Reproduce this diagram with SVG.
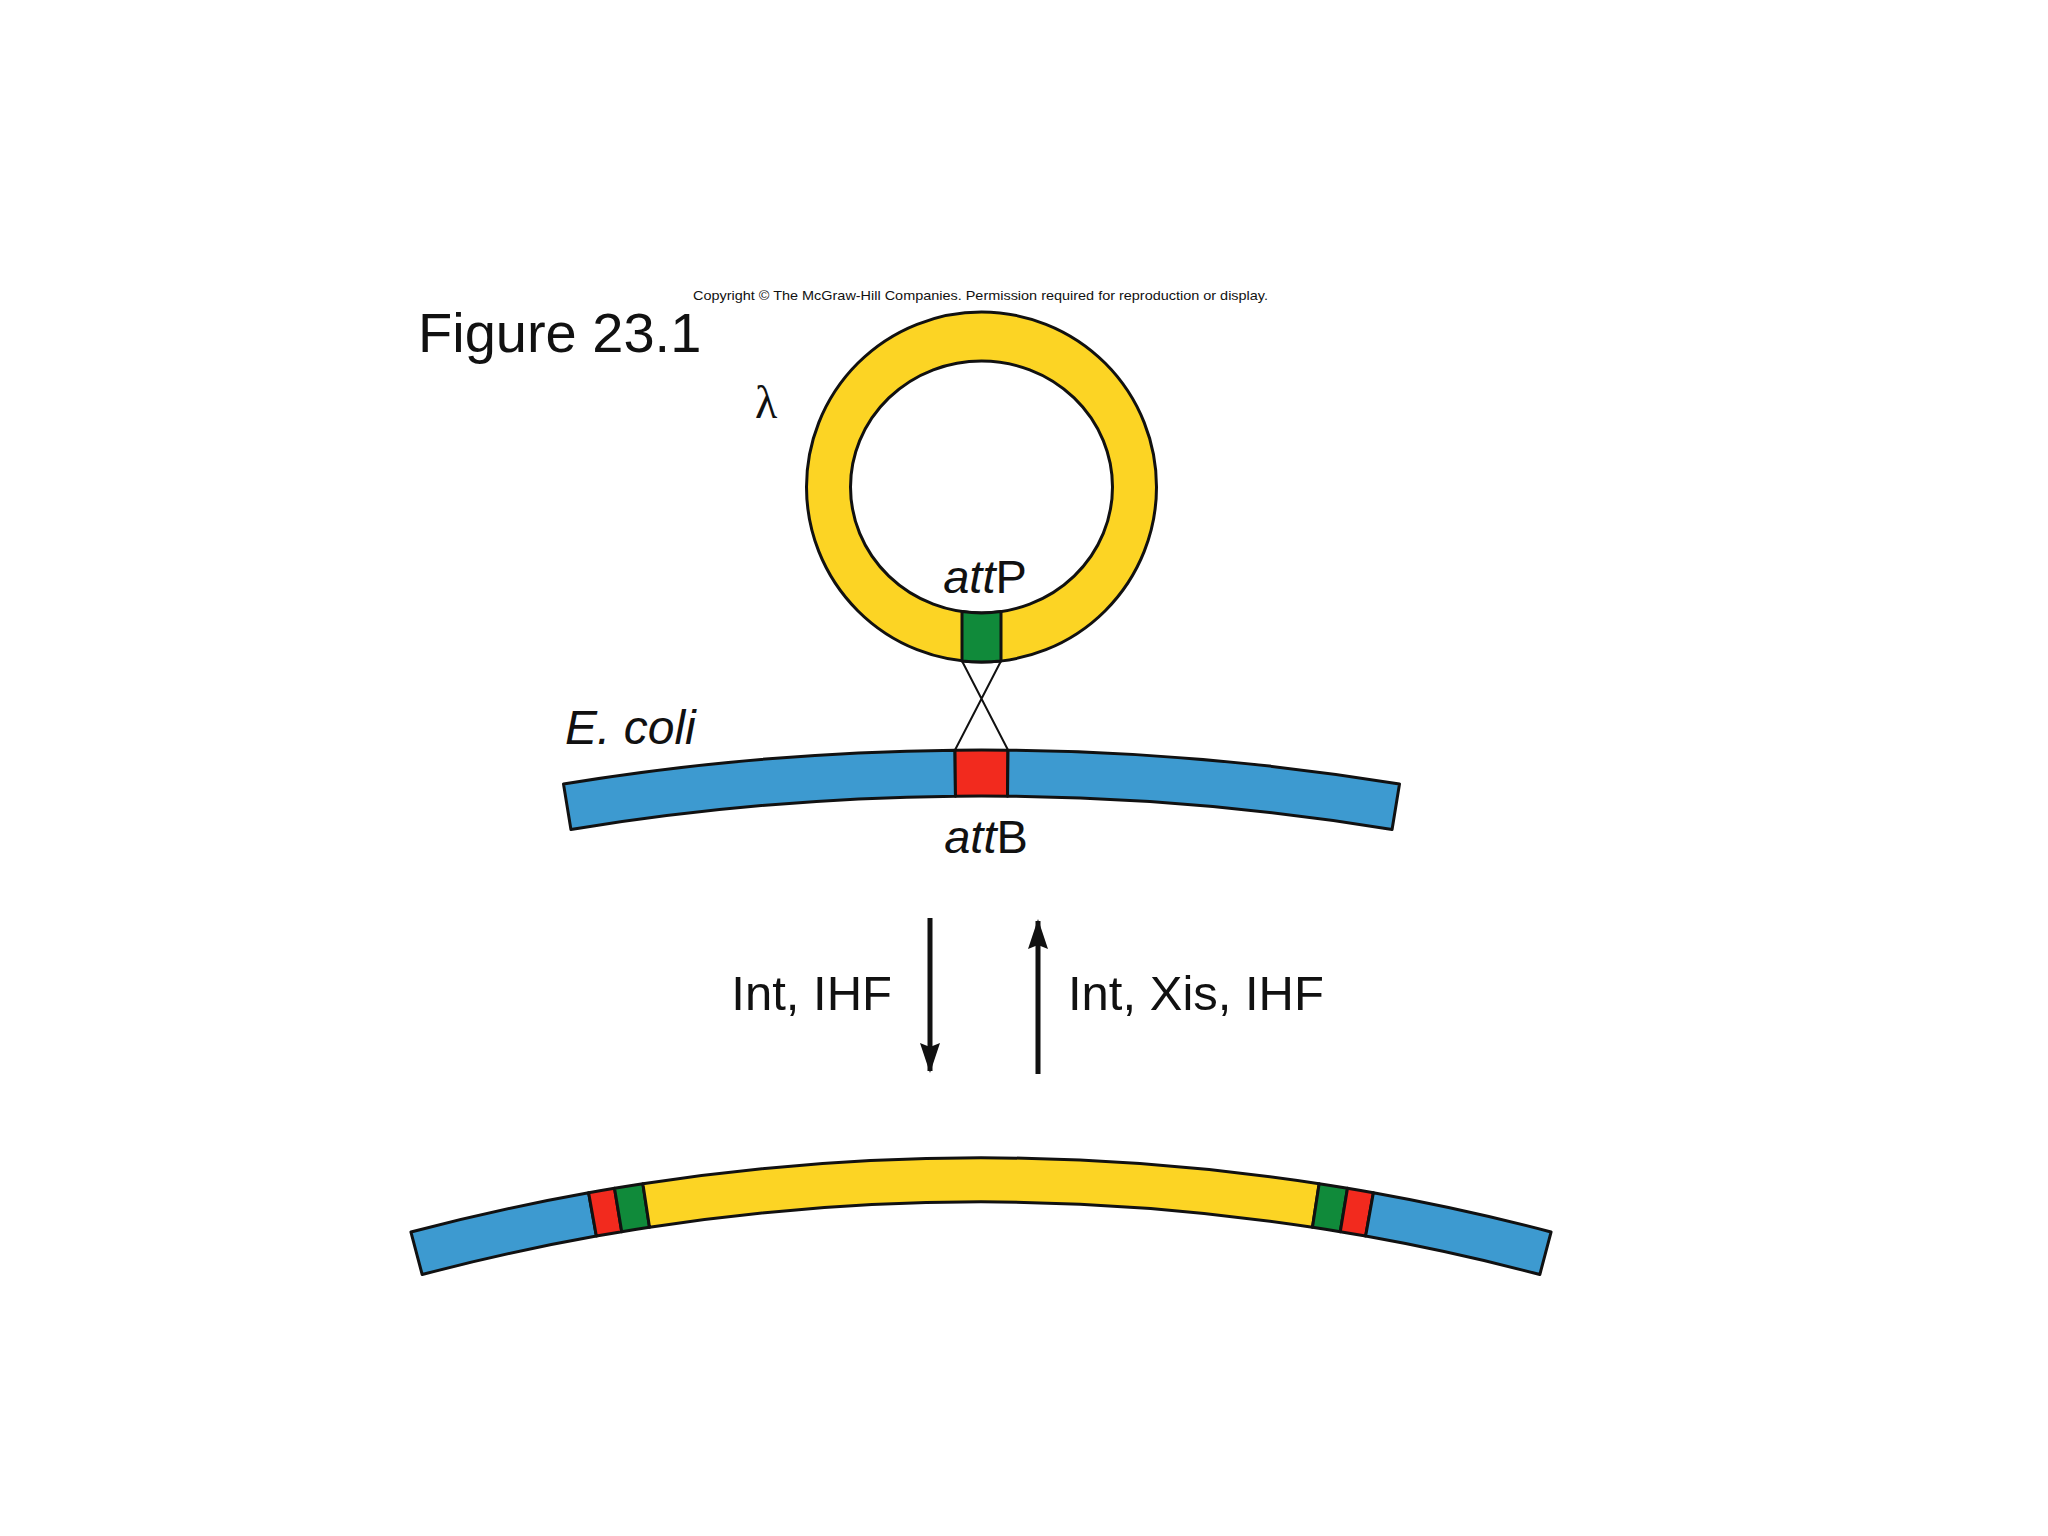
<svg xmlns="http://www.w3.org/2000/svg" width="2048" height="1536" viewBox="0 0 2048 1536">
<style>
.t{font-family:"Liberation Sans",Arial,sans-serif;fill:#111}
.ol{stroke:#111;stroke-width:3;stroke-linejoin:round}
.bl{fill:#3d9ad0}
.rd{fill:#f22a1e}
.gr{fill:#108a3a}
.ye{fill:#fcd424}
</style>
<defs>
<marker id="ah" markerWidth="30" markerHeight="20" refX="28" refY="10" orient="auto" markerUnits="userSpaceOnUse" viewBox="0 0 30 20"><path d="M0,0 L30,10 L0,20 L4,10 Z" fill="#111"/></marker>
</defs>
<rect width="2048" height="1536" fill="#fff"/>
<text class="t" x="693" y="300" font-size="13" textLength="575" lengthAdjust="spacingAndGlyphs">Copyright © The McGraw-Hill Companies. Permission required for reproduction or display.</text>
<text class="t" x="418" y="352" font-size="56">Figure 23.1</text>

<g id="lambda">
<text x="755" y="418" font-family="Liberation Serif,'Times New Roman',serif" font-size="46" fill="#111">λ</text>
<path class="ye ol" fill-rule="evenodd" d="M806.5,487 A175,175 0 1 0 1156.5,487 A175,175 0 1 0 806.5,487 Z M850.5,487 A131,126 0 1 0 1112.5,487 A131,126 0 1 0 850.5,487 Z"/>
<path class="gr ol" stroke-width="2" d="M962,611.6 A131,126 0 0 0 1001,611.6 L1001,660.9 A175,175 0 0 1 962,660.9 Z"/>
<text class="t" x="985" y="593" font-size="47" text-anchor="middle"><tspan font-style="italic">att</tspan>P</text>
</g>

<g id="ecoli">
<text class="t" x="565" y="744" font-size="48" font-style="italic">E. coli</text>
<path class="bl ol" d="M563.5,784.01 A2586,2586 0 0 1 955,750.13 L955.47,796.13 A2540,2540 0 0 0 570.93,829.4 Z"/>
<path class="rd ol" d="M955,750.13 A2586,2586 0 0 1 1008,750.13 L1007.53,796.13 A2540,2540 0 0 0 955.47,796.13 Z"/>
<path class="bl ol" d="M1008,750.13 A2586,2586 0 0 1 1399.5,784.01 L1392.07,829.4 A2540,2540 0 0 0 1007.53,796.13 Z"/>
<text class="t" x="986" y="853" font-size="47" text-anchor="middle"><tspan font-style="italic">att</tspan>B</text>
</g>

<g id="connectors" stroke="#111" fill="none">
<path d="M962,661 L1008,750 M1001,661 L955,750" stroke-width="2"/>
<line x1="930" y1="918" x2="930" y2="1071" stroke-width="5" marker-end="url(#ah)"/>
<line x1="1038" y1="1074" x2="1038" y2="921" stroke-width="5" marker-end="url(#ah)"/>
</g>
<text class="t" x="892" y="1010" font-size="49" text-anchor="end">Int, IHF</text>
<text class="t" x="1068" y="1010" font-size="49">Int, Xis, IHF</text>

<g id="integrated">
<path class="bl ol" d="M410.95,1232.01 A2232,2232 0 0 1 588.61,1192.77 L596.35,1236.09 A2188,2188 0 0 0 422.18,1274.55 Z"/>
<path class="rd ol" d="M588.61,1192.77 A2232,2232 0 0 1 614.51,1188.29 L621.73,1231.69 A2188,2188 0 0 0 596.35,1236.09 Z"/>
<path class="gr ol" d="M614.51,1188.29 A2232,2232 0 0 1 642.85,1183.76 L649.52,1227.25 A2188,2188 0 0 0 621.73,1231.69 Z"/>
<path class="ye ol" d="M642.85,1183.76 A2232,2232 0 0 1 1319.15,1183.76 L1312.48,1227.25 A2188,2188 0 0 0 649.52,1227.25 Z"/>
<path class="gr ol" d="M1319.15,1183.76 A2232,2232 0 0 1 1347.49,1188.29 L1340.27,1231.69 A2188,2188 0 0 0 1312.48,1227.25 Z"/>
<path class="rd ol" d="M1347.49,1188.29 A2232,2232 0 0 1 1373.39,1192.77 L1365.65,1236.09 A2188,2188 0 0 0 1340.27,1231.69 Z"/>
<path class="bl ol" d="M1373.39,1192.77 A2232,2232 0 0 1 1551.05,1232.01 L1539.82,1274.55 A2188,2188 0 0 0 1365.65,1236.09 Z"/>
</g>
</svg>
